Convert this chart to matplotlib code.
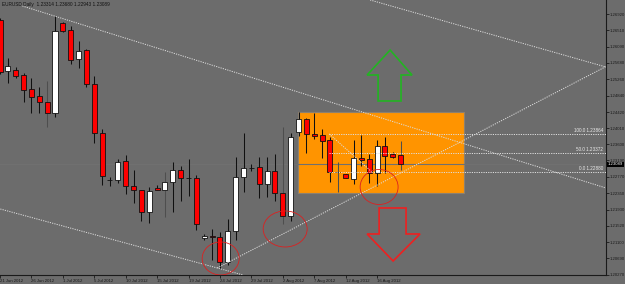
import matplotlib
matplotlib.use("Agg")
import matplotlib.pyplot as plt
import matplotlib.transforms as mtransforms
from matplotlib.patches import Rectangle, Ellipse, Polygon

plt.rcParams['font.family'] = ['Liberation Sans', 'DejaVu Sans']

# EURUSD daily candles (bar 0 = 21 Jun 2012)
opens = [1.26771, 1.25469, 1.25495, 1.25367, 1.25010, 1.24831, 1.24678, 1.24397,
         1.26695, 1.26516, 1.25776, 1.26005, 1.25137, 1.23887, 1.22687, 1.22687,
         1.23172, 1.22533, 1.22431, 1.21870, 1.22482, 1.22431, 1.22636, 1.22942,
         1.22738, 1.22738, 1.21206, 1.21257, 1.21231, 1.20593, 1.21385, 1.22763,
         1.22993, 1.23018, 1.22584, 1.22916, 1.22355, 1.21768, 1.23912, 1.24244,
         1.23861, 1.23835, 1.23708, 1.22891, 1.22840, 1.22712, 1.23248, 1.23223,
         1.22865, 1.23555, 1.23350, 1.23314]
highs = [1.26822, 1.25801, 1.25571, 1.25418, 1.25291, 1.25061, 1.25214, 1.26874,
         1.26720, 1.26618, 1.26235, 1.26031, 1.25342, 1.23989, 1.22763, 1.23223,
         1.23325, 1.22942, 1.22440, 1.22508, 1.22559, 1.22891, 1.23146, 1.23044,
         1.23223, 1.22814, 1.21308, 1.21436, 1.21359, 1.21691, 1.23274, 1.23887,
         1.23095, 1.23274, 1.23274, 1.23350, 1.24040, 1.23887, 1.24423, 1.24269,
         1.24397, 1.23989, 1.23784, 1.23146, 1.22850, 1.23708, 1.23835, 1.23350,
         1.23708, 1.23784, 1.23401, 1.23680]
lows = [1.25393, 1.25163, 1.25291, 1.24678, 1.24397, 1.24397, 1.24040, 1.24295,
        1.26465, 1.25648, 1.25546, 1.25061, 1.23631, 1.22559, 1.22533, 1.22610,
        1.22329, 1.22099, 1.21640, 1.21589, 1.22420, 1.21742, 1.21870, 1.22150,
        1.22278, 1.21410, 1.21155, 1.20644, 1.20440, 1.20517, 1.21155, 1.22380,
        1.22916, 1.22227, 1.22253, 1.22150, 1.21563, 1.21640, 1.23810, 1.23376,
        1.23733, 1.23248, 1.22636, 1.22380, 1.22730, 1.22584, 1.23044, 1.22610,
        1.22533, 1.22865, 1.23260, 1.22943]
closes = [1.25444, 1.25597, 1.25342, 1.24984, 1.24806, 1.24678, 1.24397, 1.26491,
          1.26491, 1.25750, 1.25980, 1.25137, 1.23887, 1.22789, 1.22680, 1.23146,
          1.22533, 1.22431, 1.21870, 1.22406, 1.22431, 1.22636, 1.22942, 1.22738,
          1.22730, 1.21563, 1.21257, 1.21231, 1.20593, 1.21385, 1.22763, 1.22993,
          1.22985, 1.22584, 1.22916, 1.22355, 1.21768, 1.23784, 1.24244, 1.23861,
          1.23810, 1.23682, 1.22891, 1.22885, 1.22738, 1.23248, 1.23197, 1.22865,
          1.23555, 1.23299, 1.23274, 1.23089]
grey_wicks = [6, 21, 36, 43, 51]

date_pos = list(range(0, 52, 4))
date_labels = ["21 Jun 2012", "26 Jun 2012", "1 Jul 2012", "5 Jul 2012", "10 Jul 2012",
               "15 Jul 2012", "19 Jul 2012", "24 Jul 2012", "29 Jul 2012", "2 Aug 2012",
               "7 Aug 2012", "12 Aug 2012", "16 Aug 2012"]
price_ticks = [1.26920, 1.26510, 1.26090, 1.25680, 1.25260, 1.24840, 1.24420, 1.24010,
               1.23600, 1.23190, 1.22770, 1.22350, 1.21930, 1.21520, 1.21100, 1.20690,
               1.20270]

fib_levels = [1.23864, 1.23372, 1.22880]
fib_names = ["100.0", "50.0", "0.0"]

BG = "#6c6c6c"
DOT = (0, (1.2, 1.2))
LINE_C = "#dedede"

fig = plt.figure(figsize=(6.25, 2.84), dpi=100, facecolor=BG)
ax = fig.add_axes([0, 9 / 284, 606 / 625, 275 / 284], facecolor=BG)
ax.set_xlim(0.04, 77.14)
ax.set_ylim(1.20261, 1.27282)

# orange zone and the bid line
ax.add_patch(Rectangle((37.95, 1.22355), 59.07 - 37.95, 1.24423 - 1.22355,
                       fc="#ff9400", ec="#8c8070", lw=0.8, zorder=1))
ax.axhline(closes[-1], color="#707070", lw=0.8, zorder=1.5)

# candles
for i in range(len(opens)):
    o, h, l, c = opens[i], highs[i], lows[i], closes[i]
    wc = "#4e4e4e" if i in grey_wicks else "#101010"
    ax.vlines(i, l, h, color=wc, lw=0.75, zorder=2)
    fc = "white" if c > o else "#ff0000"
    body = max(abs(c - o), 0.00004)
    ax.bar(i, body, bottom=min(o, c), width=0.64, color=fc,
           edgecolor="#111111", linewidth=0.6, zorder=3)

# trend lines
ax.plot([2.84, 77.14], [1.27129, 1.22482], color=LINE_C, ls=DOT, lw=0.7, zorder=4)
ax.plot([0.04, 30.95], [1.21946, 1.20261], color=LINE_C, ls=DOT, lw=0.7, zorder=4)
ax.plot([27.65, 77.14], [1.20440, 1.25584], color=LINE_C, ls=DOT, lw=0.7, zorder=4)
ax.plot([47.11, 77.14], [1.27282, 1.25571], color=LINE_C, ls=DOT, lw=0.7, zorder=4)

# fibonacci
ax.plot([41.9, 47.4], [fib_levels[0], fib_levels[2]], color=LINE_C, ls=DOT, lw=0.7, zorder=4)
for lev, nm in zip(fib_levels, fib_names):
    ax.plot([41.9, 77.14], [lev, lev], color=LINE_C, ls=DOT, lw=0.7, zorder=4)
    ax.text(76.8, lev + 0.0003, f"{nm} {lev:.5f}", fontsize=3.3, color="#ececec",
            ha="right", va="bottom", zorder=6)

# circles
for cx, cy, w, hgt in [(28.09, 1.20683, 4.71, 0.00842),
                       (36.30, 1.21436, 5.60, 0.00919),
                       (48.26, 1.22508, 4.83, 0.00894)]:
    ax.add_patch(Ellipse((cx, cy), w, hgt, fill=False, ec="#dc2020", lw=0.6, zorder=5))

# arrows
up = [(49.66, 1.26005), (52.45, 1.25367), (51.05, 1.25367), (51.05, 1.24704),
      (48.13, 1.24704), (48.13, 1.25367), (46.73, 1.25367)]
down = [(48.26, 1.21972), (51.69, 1.21972), (51.69, 1.21308), (53.47, 1.21308),
        (50.04, 1.20619), (46.73, 1.21308), (48.26, 1.21308)]
ax.add_patch(Polygon(up, closed=True, fill=False, ec="#22b422", lw=1.2, zorder=5))
ax.add_patch(Polygon(down, closed=True, fill=False, ec="#ee2020", lw=1.2, zorder=5))

# axes styling
for s in ["top", "left"]:
    ax.spines[s].set_visible(False)
for s in ["right", "bottom"]:
    ax.spines[s].set_color("#1a1a1a")
    ax.spines[s].set_linewidth(0.8)

ax.set_xticks(date_pos)
ax.set_xticklabels(date_labels)
plt.setp(ax.get_xticklabels(), ha="left")
ax.yaxis.tick_right()
ax.set_yticks(price_ticks)
ax.set_yticklabels([f"{p:.5f}" for p in price_ticks])
ax.tick_params(axis="both", length=2, width=0.6, colors="#1a1a1a", labelsize=3.1, pad=0.6)

ax.text(0.003, 0.992, "EURUSD,Daily  1.23314 1.23680 1.22943 1.23089", transform=ax.transAxes,
        fontsize=3.4, color="#111111", ha="left", va="top")

trans = mtransforms.blended_transform_factory(ax.transAxes, ax.transData)
ax.text(1.003, closes[-1], f"{closes[-1]:.5f}", transform=trans, fontsize=3.1, color="white",
        ha="left", va="center", zorder=7, clip_on=False,
        bbox=dict(boxstyle="square,pad=0.15", fc="black", ec="none"))

fig.savefig("out.png", dpi=100, facecolor=BG)
